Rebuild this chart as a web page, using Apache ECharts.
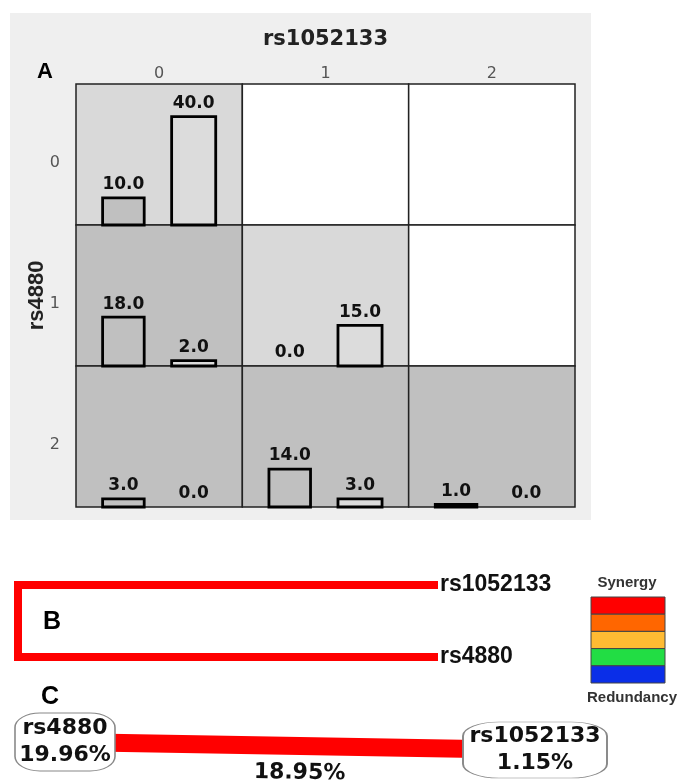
<!DOCTYPE html>
<html>
<head>
<meta charset="utf-8">
<title>MDR rs1052133 x rs4880</title>
<script src="https://cdn.jsdelivr.net/npm/echarts@6/dist/echarts.min.js"></script>
<style>
  html, body { margin: 0; padding: 0; background: #fff; }
  #chart { width: 679px; height: 782px; }
</style>
</head>
<body>
<div id="chart"></div>
<script>
// ---- panel A : genotype combinations (cases / controls) ----
var colLabels = ['0', '1', '2'];          // rs1052133
var rowLabels = ['0', '1', '2'];          // rs4880
// 0 = empty, 1 = low risk, 2 = high risk
var cellClass = [
    [1, 0, 0],
    [2, 1, 0],
    [2, 2, 2]
];
var caseCounts = [
    [10, null, null],
    [18, 0, null],
    [3, 14, 1]
];
var controlCounts = [
    [40, null, null],
    [2, 15, null],
    [0, 3, 0]
];
var barScaleMax = 52;

// ---- panel B : dendrogram ----
var dendroLeaves = ['rs1052133', 'rs4880'];
var dendroMerge = 1;

// ---- panel C : interaction graph ----
var netNodes = ['rs4880', 'rs1052133'];
var netNodeGain = [19.96, 1.15];
var netEdgeGain = 18.95;

// legend colours, synergy -> redundancy
var legendColors = ['#ff0000', '#ff6600', '#ffbb33', '#22dd44', '#0a2ee8'];

var cellFill = ['#ffffff', '#d9d9d9', '#c0c0c0'];
var barFill = ['#c0c0c0', '#dcdcdc'];
var slotSpan = [[0.16, 0.41], [0.575, 0.84]];

var cellData = [];
var barData = [];
rowLabels.forEach(function (rl, r) {
    colLabels.forEach(function (cl, c) {
        cellData.push([c, r, cellClass[r][c]]);
        [caseCounts[r][c], controlCounts[r][c]].forEach(function (v, s) {
            if (v !== null) barData.push([c, r, s, v]);
        });
    });
});

function renderCell(params, api) {
    var c = api.value(0), r = api.value(1), k = api.value(2);
    var p0 = api.coord([c, r]);
    var p1 = api.coord([c + 1, r + 1]);
    return {
        type: 'rect',
        shape: { x: p0[0], y: p0[1], width: p1[0] - p0[0], height: p1[1] - p0[1] },
        style: { fill: cellFill[k], stroke: '#222', lineWidth: 1.5 }
    };
}

function renderBar(params, api) {
    var c = api.value(0), r = api.value(1), s = api.value(2), v = api.value(3);
    var span = slotSpan[s];
    var pb = api.coord([c + span[0], r + 1]);
    var pt = api.coord([c + span[1], r + 1 - v / barScaleMax]);
    var children = [];
    if (v > 0) {
        children.push({
            type: 'rect',
            shape: { x: pb[0], y: pt[1], width: pt[0] - pb[0], height: pb[1] - pt[1] },
            style: { fill: barFill[s], stroke: '#000', lineWidth: 2.8 }
        });
    }
    children.push({
        type: 'text',
        style: {
            text: v.toFixed(1),
            x: (pb[0] + pt[0]) / 2,
            y: pt[1] - 13,
            align: 'center',
            verticalAlign: 'middle',
            font: 'bold 17px "DejaVu Sans"',
            fill: '#111'
        }
    });
    return { type: 'group', children: children };
}

var legendGraphics = legendColors.map(function (col, i) {
    return {
        type: 'rect',
        shape: { x: 591, y: 597 + i * 17.2, width: 74, height: 17.2 },
        style: { fill: col, stroke: '#444', lineWidth: 1 }
    };
});

var option = {
    backgroundColor: '#ffffff',
    animation: false,
    grid: [
        { left: 76, top: 84, width: 499, height: 423 },
        { left: 18, top: 585, width: 420, height: 72 },
        { left: 65, top: 742, width: 470, height: 8 }
    ],
    xAxis: [
        { gridIndex: 0, type: 'value', min: 0, max: 3, show: false },
        {
            gridIndex: 0, type: 'category', data: colLabels, position: 'top',
            axisLine: { show: false }, axisTick: { show: false }, splitLine: { show: false },
            axisLabel: { margin: 2, fontSize: 16, fontFamily: 'DejaVu Sans', color: '#555' },
            name: 'rs1052133', nameLocation: 'middle', nameGap: 34,
            nameTextStyle: { fontSize: 21, fontWeight: 'bold', fontFamily: 'DejaVu Sans', color: '#222' }
        },
        { gridIndex: 1, type: 'value', min: 0, max: dendroMerge, inverse: true, show: false },
        { gridIndex: 2, type: 'value', min: 0, max: 1, show: false }
    ],
    yAxis: [
        { gridIndex: 0, type: 'value', min: 0, max: 3, inverse: true, show: false },
        {
            gridIndex: 0, type: 'category', data: rowLabels, inverse: true, position: 'left',
            axisLine: { show: false }, axisTick: { show: false }, splitLine: { show: false },
            axisLabel: { margin: 16, fontSize: 16, fontFamily: 'DejaVu Sans', color: '#555', verticalAlign: 'top' },
            name: 'rs4880', nameLocation: 'middle', nameGap: 28, nameMoveOverlap: false,
            nameTextStyle: { fontSize: 22, fontWeight: 'bold', fontFamily: 'Liberation Sans', color: '#222' }
        },
        {
            gridIndex: 1, type: 'category', data: dendroLeaves, inverse: true, boundaryGap: false,
            position: 'right',
            axisLine: { show: false }, axisTick: { show: false }, splitLine: { show: false },
            axisLabel: { margin: 2, fontSize: 23, fontWeight: 'bold', fontFamily: 'Liberation Sans', color: '#111' }
        },
        { gridIndex: 2, type: 'value', min: 0, max: 1, inverse: true, show: false }
    ],
    graphic: [
        { type: 'rect', z: -10, shape: { x: 10, y: 13, width: 581, height: 507 }, style: { fill: '#efefef' } },
        { type: 'text', x: 45, y: 72, style: { text: 'A', font: 'bold 22px "Liberation Sans"', fill: '#000', align: 'center', verticalAlign: 'middle' } },
        { type: 'text', x: 52, y: 622, style: { text: 'B', font: 'bold 25px "Liberation Sans"', fill: '#000', align: 'center', verticalAlign: 'middle' } },
        { type: 'text', x: 50, y: 697, style: { text: 'C', font: 'bold 25px "Liberation Sans"', fill: '#000', align: 'center', verticalAlign: 'middle' } },
        { type: 'text', x: 627, y: 583, style: { text: 'Synergy', font: 'bold 15px "Liberation Sans"', fill: '#333', align: 'center', verticalAlign: 'middle' } },
        { type: 'text', x: 632, y: 698, style: { text: 'Redundancy', font: 'bold 15px "Liberation Sans"', fill: '#333', align: 'center', verticalAlign: 'middle' } }
    ].concat(legendGraphics),
    series: [
        {
            type: 'custom', name: 'cells', xAxisIndex: 0, yAxisIndex: 0,
            renderItem: renderCell, data: cellData, z: 2
        },
        {
            type: 'custom', name: 'counts', xAxisIndex: 0, yAxisIndex: 0,
            renderItem: renderBar, data: barData, z: 3
        },
        {
            type: 'line', name: 'dendrogram', xAxisIndex: 2, yAxisIndex: 2,
            showSymbol: false, clip: false,
            lineStyle: { color: '#ff0000', width: 8, cap: 'butt', join: 'miter' },
            data: [
                [0, dendroLeaves[0]],
                [dendroMerge, dendroLeaves[0]],
                [dendroMerge, dendroLeaves[1]],
                [0, dendroLeaves[1]]
            ]
        },
        {
            type: 'graph', name: 'interaction', coordinateSystem: 'cartesian2d', layout: 'none',
            xAxisIndex: 3, yAxisIndex: 3,
            symbol: 'roundRect',
            symbolSize: function (val, p) { return p.dataIndex === 0 ? [100, 58] : [144, 56]; },
            itemStyle: { color: '#ffffff', borderColor: '#888', borderWidth: 1.2 },
            label: {
                show: true, position: 'inside',
                formatter: function (p) {
                    return '{n|' + p.name + '}\n{p|' + netNodeGain[p.dataIndex].toFixed(2) + '%}';
                },
                rich: {
                    n: { fontSize: 22, fontWeight: 'bold', fontFamily: 'DejaVu Sans', color: '#111', lineHeight: 27 },
                    p: { fontSize: 22, fontWeight: 'bold', fontFamily: 'DejaVu Sans', color: '#111', lineHeight: 27 }
                }
            },
            lineStyle: { color: '#ff0000', width: 18, opacity: 1, curveness: 0 },
            edgeLabel: {
                show: true, position: 'insideMiddleBottom', distance: 16,
                formatter: '{c}%',
                fontSize: 22, fontWeight: 'bold', fontFamily: 'DejaVu Sans', color: '#111'
            },
            data: netNodes.map(function (n, i) { return { name: n, value: [i, i] }; }),
            links: [{ source: netNodes[0], target: netNodes[1], value: netEdgeGain }]
        }
    ]
};

var myChart = echarts.init(document.getElementById('chart'));
myChart.setOption(option);
</script>
</body>
</html>
